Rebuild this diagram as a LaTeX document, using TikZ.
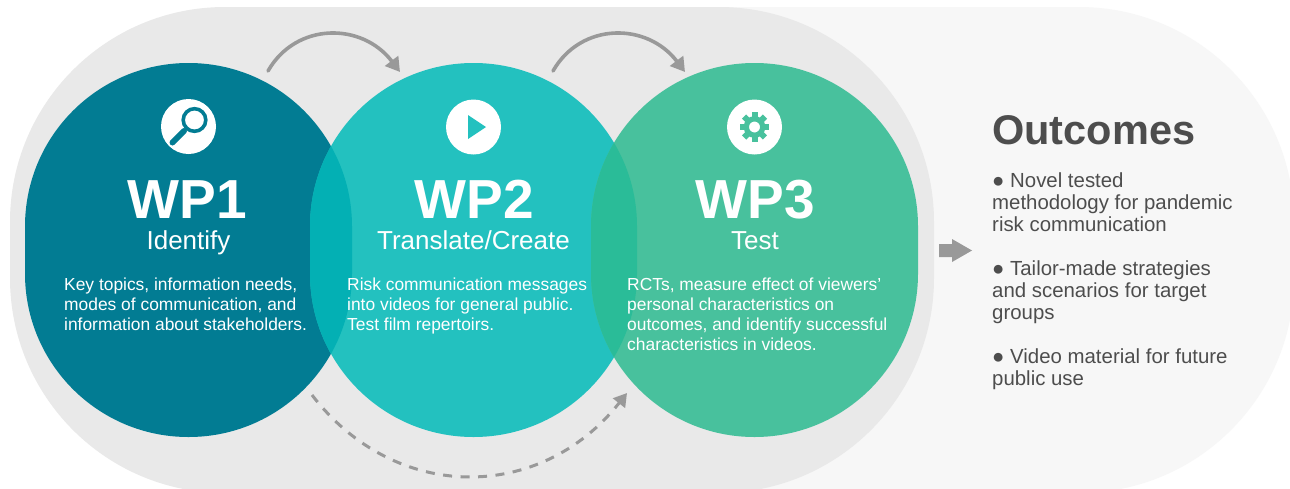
\documentclass[tikz,border=0pt]{standalone}
\usepackage{fontspec}
\setmainfont{Liberation Sans}
\usetikzlibrary{arrows.meta}
\definecolor{wpa}{HTML}{027C93}
\definecolor{wpb}{HTML}{23C1BF}
\definecolor{wpc}{HTML}{48C19D}
\definecolor{ovab}{HTML}{03B0B4}
\definecolor{ovbc}{HTML}{2ABC98}
\definecolor{bgmid}{HTML}{E9E9E9}
\definecolor{bglight}{HTML}{F7F7F7}
\definecolor{arrowgrey}{HTML}{999999}
\definecolor{inkgrey}{HTML}{4D4D4D}
\tikzset{
  wpdisc/.style={rectangle,rounded corners=163.4pt,inner sep=0pt,outer sep=0pt,minimum width=327pt,minimum height=374pt},
  iconbg/.style={circle,fill=white,inner sep=0pt,minimum size=55pt},
  wptitle/.style={text=white,inner sep=0pt,font=\bfseries\fontsize{55}{55}\selectfont,anchor=base},
  wpsub/.style={text=white,inner sep=0pt,font=\fontsize{26}{26}\selectfont,anchor=base},
  wpbody/.style={text=white,inner sep=0pt,align=left,anchor=north west,font=\fontsize{17.4}{20}\selectfont},
  outbody/.style={text=inkgrey,inner sep=0pt,align=left,anchor=north west,font=\fontsize{20.4}{22}\selectfont},
  flow/.style={draw=arrowgrey,line width=3.6pt,line cap=round,-{Triangle[length=14pt,width=16pt]}},
  flowdash/.style={draw=arrowgrey,line width=3pt,dash pattern=on 9pt off 8.5pt,-{Triangle[length=13pt,width=15pt]}}
}
\begin{document}
\begin{tikzpicture}[x=1pt,y=-1pt]
\useasboundingbox (0,0) rectangle (1290,488);
\fill[white] (0,0) rectangle (1290,488);
\begin{scope}
\clip (0,0) rectangle (1290,488);
% backgrounds
\fill[bglight,rounded corners=215pt] (500,7) rectangle (1294,493);
\fill[bgmid,rounded corners=215pt] (10,7) rectangle (934,493);
\end{scope}
% discs
\node[wpdisc,fill=wpa] (wpa disc) at (188.5,250) {};
\node[wpdisc,fill=wpb] (wpb disc) at (473.5,250) {};
\node[wpdisc,fill=wpc] (wpc disc) at (754.5,250) {};
\begin{scope}
\clip[rounded corners=163.4pt] (25,63) rectangle (352,437);
\fill[ovab,rounded corners=163.4pt] (310,63) rectangle (637,437);
\end{scope}
\begin{scope}
\clip[rounded corners=163.4pt] (310,63) rectangle (637,437);
\fill[ovbc,rounded corners=163.4pt] (591,63) rectangle (918,437);
\end{scope}
% icons
\node[iconbg] (icon a) at (188.5,126.5) {};
\draw[wpa,line width=3.6pt] (194.5,120) circle [radius=11.3pt];
\draw[wpa,line width=6pt,line cap=round] (184,131) -- (172.5,142.5);
\node[iconbg] (icon b) at (473.5,127) {};
\fill[wpb] (468,115) -- (486,127) -- (468,139) -- cycle;
\node[iconbg] (icon c) at (754.5,127) {};
\foreach \a in {0,45,...,315}{
  \fill[wpc,rotate around={\a:(754.5,127)}] (751.5,112.3) rectangle (757.5,118);
}
\draw[wpc,line width=5.2pt] (754.5,127) circle [radius=8.2pt];
% titles
\node[wptitle] (wpa title) at (187,218) {WP1};
\node[wpsub] (wpa sub) at (188.5,249) {Identify};
\node[wpbody] (wpa text) at (64,277.5) {Key topics, information needs,\\modes of communication, and\\information about stakeholders.};
\node[wptitle] (wpb title) at (474,218) {WP2};
\node[wpsub] (wpb sub) at (473.5,249) {Translate/Create};
\node[wpbody] (wpb text) at (347,277.5) {Risk communication messages\\into videos for general public.\\Test film repertoirs.};
\node[wptitle] (wpc title) at (755,218) {WP3};
\node[wpsub] (wpc sub) at (755,249) {Test};
\node[wpbody] (wpc text) at (627,277.5) {RCTs, measure effect of viewers'\\personal characteristics on\\outcomes, and identify successful\\characteristics in videos.};
% arrows
\coordinate (fa) at (268,71);
\coordinate (fb) at (400,72);
\coordinate (fc) at (553,71);
\coordinate (fd) at (685,72);
\coordinate (da) at (312,395);
\coordinate (db) at (627,393);
\draw[flow] (fa) .. controls (296,22) and (362,22) .. (fb);
\draw[flow] (fc) .. controls (581,22) and (647,22) .. (fd);
\draw[flowdash] (da) .. controls (395,503) and (540,503) .. (db);
\path[fill=arrowgrey] (939,244) -- (952,244) -- (952,239) -- (972,250.5) -- (952,262) -- (952,257) -- (939,257) -- cycle;
% outcomes
\node[text=inkgrey,inner sep=0pt,anchor=base west,font=\bfseries\fontsize{41.5}{42}\selectfont] (out title) at (992,144) {Outcomes};
\node[outbody] (out a) at (992,172.5) {● Novel tested\\methodology for pandemic\\risk communication};
\node[outbody] (out b) at (992,260.5) {● Tailor-made strategies\\and scenarios for target\\groups};
\node[outbody] (out c) at (992,348.5) {● Video material for future\\public use};
\end{tikzpicture}
\end{document}
